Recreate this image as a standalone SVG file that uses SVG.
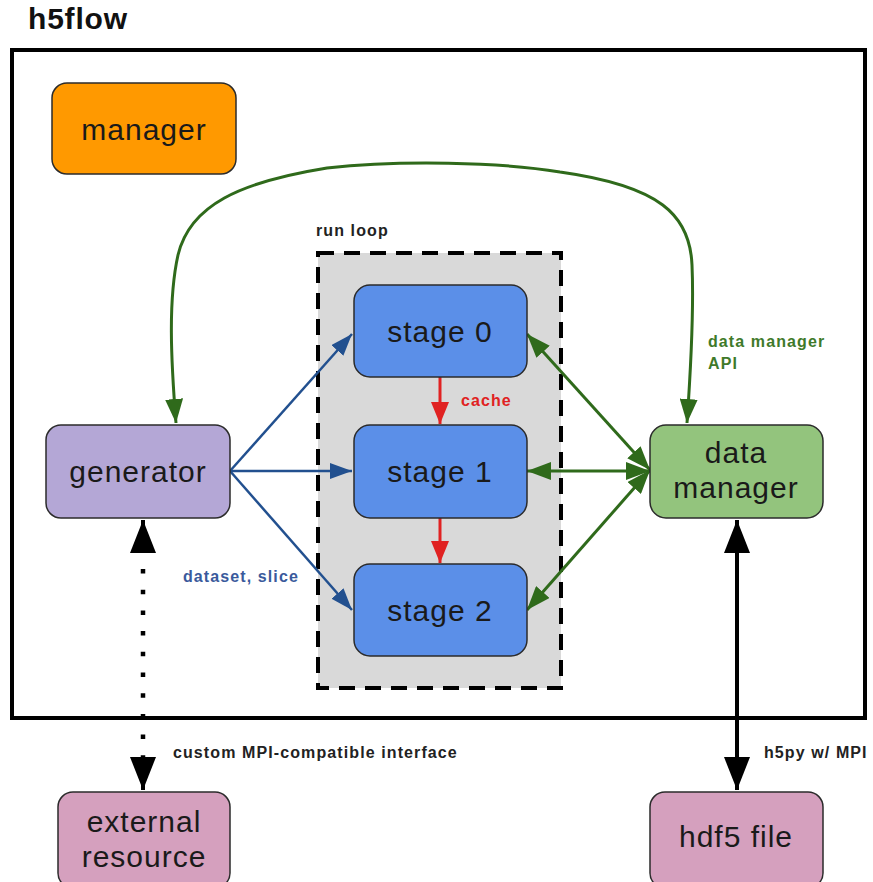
<svg xmlns="http://www.w3.org/2000/svg" width="873" height="882" viewBox="0 0 873 882">
  <style>
    .node { stroke: #2b2b2b; stroke-width: 1.5; }
    .lbl { font-family: "Liberation Sans", Arial, sans-serif; font-size: 30px; letter-spacing: 1px; fill: #1a1a1a; text-anchor: middle; }
    .note { font-family: "Liberation Sans", Arial, sans-serif; font-size: 16px; letter-spacing: 1.1px; font-weight: bold; }
    .blue { stroke: #22508f; stroke-width: 2.5; fill: none; }
    .green { stroke: #2f6a1b; stroke-width: 3; fill: none; }
    .red { stroke: #e02222; stroke-width: 3; fill: none; }
    .black { stroke: #000; stroke-width: 4; fill: none; }
  </style>
  <defs>
    <marker id="ah-blue" markerUnits="userSpaceOnUse" markerWidth="22" markerHeight="16" refX="22" refY="8" orient="auto-start-reverse">
      <path d="M0,0 L22,8 L0,16 z" fill="#22508f"/>
    </marker>
    <marker id="ah-green" markerUnits="userSpaceOnUse" markerWidth="24" markerHeight="18" refX="24" refY="9" orient="auto-start-reverse">
      <path d="M0,0 L24,9 L0,18 z" fill="#2f6a1b"/>
    </marker>
    <marker id="ah-red" markerUnits="userSpaceOnUse" markerWidth="22" markerHeight="18" refX="22" refY="9" orient="auto-start-reverse">
      <path d="M0,0 L22,9 L0,18 z" fill="#e02222"/>
    </marker>
    <marker id="ah-black" markerUnits="userSpaceOnUse" markerWidth="33" markerHeight="26" refX="33" refY="13" orient="auto-start-reverse">
      <path d="M0,0 L33,13 L0,26 z" fill="#000"/>
    </marker>
  </defs>

  <rect width="873" height="882" fill="#fff"/>

  <!-- title and outer frame -->
  <text x="28" y="29" font-family="'Liberation Sans', Arial, sans-serif" font-size="30" letter-spacing="0.8" font-weight="bold" fill="#111">h5flow</text>
  <rect x="12" y="50" width="853" height="668" fill="none" stroke="#000" stroke-width="4"/>

  <!-- run loop container -->
  <g id="run-loop">
    <rect x="318" y="253" width="243" height="435" fill="#d9d9d9" stroke="#000" stroke-width="4" stroke-dasharray="16 10"/>
    <text class="note" x="316" y="236" fill="#222">run loop</text>
  </g>

  <!-- connectors -->
  <g id="connectors">
    <!-- generator feeds each stage -->
    <line class="blue" x1="230" y1="471" x2="352" y2="334" marker-end="url(#ah-blue)"/>
    <line class="blue" x1="230" y1="471" x2="352" y2="471" marker-end="url(#ah-blue)"/>
    <line class="blue" x1="230" y1="471" x2="352" y2="610" marker-end="url(#ah-blue)"/>
    <!-- cache between stages -->
    <line class="red" x1="440" y1="377" x2="440" y2="424" marker-end="url(#ah-red)"/>
    <line class="red" x1="440" y1="518" x2="440" y2="563" marker-end="url(#ah-red)"/>
    <!-- stages to data manager -->
    <line class="green" x1="527" y1="334" x2="650" y2="470" marker-start="url(#ah-green)" marker-end="url(#ah-green)"/>
    <line class="green" x1="527" y1="471" x2="650" y2="471" marker-start="url(#ah-green)" marker-end="url(#ah-green)"/>
    <line class="green" x1="527" y1="610" x2="650" y2="470" marker-start="url(#ah-green)" marker-end="url(#ah-green)"/>
    <!-- data manager API loop -->
    <path class="green" stroke-width="2.5" d="M176,423 C171,360 168,300 178,255 C190,205 240,182 327,168 C400,160 500,162 560,172 C660,186 690,215 692,265 C694,310 690,380 687,423" marker-start="url(#ah-green)" marker-end="url(#ah-green)"/>
    <!-- external interfaces -->
    <line x1="143" y1="520" x2="143" y2="553" class="black" marker-start="url(#ah-black)"/>
    <line x1="143" y1="569" x2="143" y2="757" stroke="#000" stroke-width="4.5" stroke-dasharray="4.5 16.2"/>
    <line x1="143" y1="757" x2="143" y2="790" class="black" marker-end="url(#ah-black)"/>
    <line class="black" x1="737" y1="520" x2="737" y2="790" marker-start="url(#ah-black)" marker-end="url(#ah-black)"/>
  </g>

  <!-- connector labels -->
  <text class="note" x="183" y="582" fill="#3a5a9c">dataset, slice</text>
  <text class="note" x="461" y="406" fill="#e02222">cache</text>
  <text class="note" x="708" y="347" fill="#3f7a2a">data manager</text>
  <text class="note" x="708" y="369" fill="#3f7a2a">API</text>
  <text class="note" x="173" y="758" fill="#222">custom MPI-compatible interface</text>
  <text class="note" x="764" y="758" fill="#222">h5py w/ MPI</text>

  <!-- nodes -->
  <g id="manager">
    <rect class="node" x="52" y="83" width="184" height="91" rx="15" fill="#ff9900"/>
    <text class="lbl" x="144" y="140">manager</text>
  </g>
  <g id="generator">
    <rect class="node" x="46" y="425" width="184" height="93" rx="15" fill="#b4a7d6"/>
    <text class="lbl" x="138" y="482">generator</text>
  </g>
  <g id="stage-0">
    <rect class="node" x="354" y="285" width="173" height="92" rx="16" fill="#5b8fe8"/>
    <text class="lbl" x="440" y="342">stage 0</text>
  </g>
  <g id="stage-1">
    <rect class="node" x="354" y="425" width="173" height="93" rx="16" fill="#5b8fe8"/>
    <text class="lbl" x="440" y="482">stage 1</text>
  </g>
  <g id="stage-2">
    <rect class="node" x="354" y="564" width="173" height="92" rx="16" fill="#5b8fe8"/>
    <text class="lbl" x="440" y="621">stage 2</text>
  </g>
  <g id="data-manager">
    <rect class="node" x="650" y="425" width="173" height="93" rx="16" fill="#93c47d"/>
    <text class="lbl" x="736" y="463">data</text>
    <text class="lbl" x="736" y="498">manager</text>
  </g>
  <g id="external-resource">
    <rect class="node" x="58" y="792" width="172" height="96" rx="15" fill="#d5a0be"/>
    <text class="lbl" x="144" y="832">external</text>
    <text class="lbl" x="144" y="867">resource</text>
  </g>
  <g id="hdf5-file">
    <rect class="node" x="650" y="792" width="173" height="96" rx="15" fill="#d5a0be"/>
    <text class="lbl" x="736" y="847">hdf5 file</text>
  </g>
</svg>
